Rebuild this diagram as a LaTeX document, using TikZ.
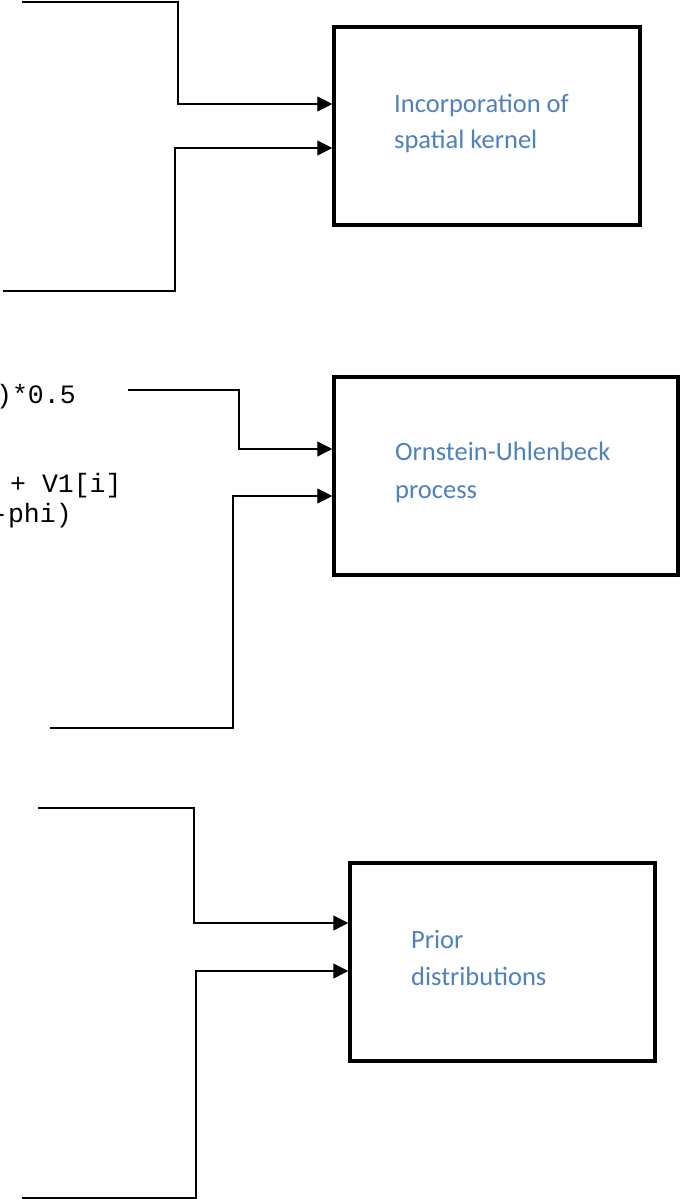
\documentclass[tikz,border=0pt]{standalone}
\usepackage{fontspec}
\setmainfont{Carlito}
\newfontfamily\codefont{Liberation Mono}
\usetikzlibrary{arrows.meta}
\definecolor{txtblue}{RGB}{79,129,189}
\begin{document}
\begin{tikzpicture}[x=1pt,y=-1pt,
  blockbox/.style={draw=black,line width=3.5pt,fill=white,inner sep=0pt},
  conn/.style={line width=1.3pt,-{Triangle[length=15pt,width=15pt]}},
  lbl/.style={text=txtblue,font=\fontsize{26.5}{36.5}\selectfont,anchor=base west,inner sep=0pt},
  code/.style={font=\codefont\fontsize{26.5}{32}\selectfont,anchor=base west,inner sep=0pt}]
\useasboundingbox (0,0) rectangle (680,1199);
\clip (0,0) rectangle (680,1199);

% boxes
\node[blockbox,minimum width=306pt,minimum height=198pt] (box1) at (487,126) {};
\node[blockbox,minimum width=344pt,minimum height=198pt] (box2) at (506,476) {};
\node[blockbox,minimum width=305pt,minimum height=198pt] (box3) at (502.5,962) {};

% labels
\node[lbl] (l1a) at (394,112) {Incorporation of};
\node[lbl] (l1b) at (394,148.5) {spatial kernel};
\node[lbl] (l2a) at (395,460) {Ornstein-Uhlenbeck};
\node[lbl] (l2b) at (395,498) {process};
\node[lbl] (l3a) at (411,948) {Prior};
\node[lbl] (l3b) at (411,985) {distributions};

% code fragments
\node[code] (c1) at (-4,403) {)*0.5};
\node[code] (c2) at (10,492) {+ V1[i]};
\node[code] (c3) at (-8,522) {-phi)};

% connector coordinates
\coordinate (a1) at (22,2);    \coordinate (a1b) at (178,104);
\coordinate (b1) at (3,291);   \coordinate (b1b) at (175,148);
\coordinate (a2) at (128,390); \coordinate (a2b) at (239,449);
\coordinate (b2) at (50,728);  \coordinate (b2b) at (233,496);
\coordinate (a3) at (38,808);  \coordinate (a3b) at (194,923);
\coordinate (b3) at (22,1198); \coordinate (b3b) at (196,971);

% connectors
\draw[conn] (a1) -| (a1b) -- (a1b -| box1.west);
\draw[conn] (b1) -| (b1b) -- (b1b -| box1.west);
\draw[conn] (a2) -| (a2b) -- (a2b -| box2.west);
\draw[conn] (b2) -| (b2b) -- (b2b -| box2.west);
\draw[conn] (a3) -| (a3b) -- (a3b -| box3.west);
\draw[conn] (b3) -| (b3b) -- (b3b -| box3.west);
\end{tikzpicture}
\end{document}
